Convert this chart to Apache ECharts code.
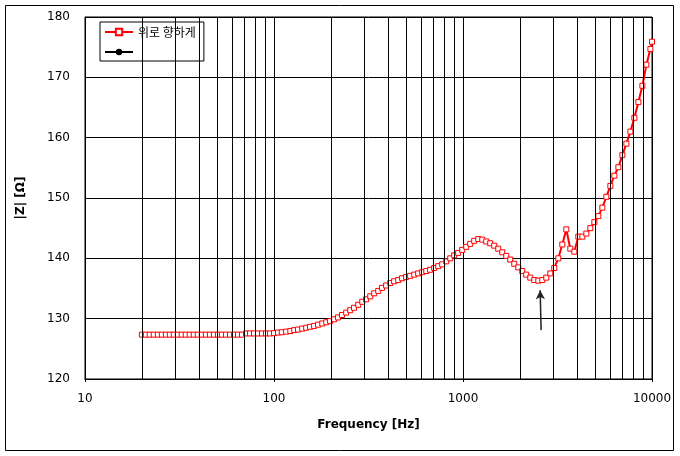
<!DOCTYPE html>
<html>
<head>
<meta charset="utf-8">
<script src="https://cdn.jsdelivr.net/npm/echarts@6/dist/echarts.min.js"></script>
<style>
  html, body { margin: 0; padding: 0; background: #fff; }
  #main { width: 680px; height: 456px; }
</style>
</head>
<body>
<div id="main"></div>
<script>
// frequency [Hz]
var freq = [20, 21, 22, 23.1, 24.3, 25.5, 26.8, 28.1, 29.5, 31, 32.5, 34.1, 35.8, 37.6, 39.5, 41.5, 43.6, 45.8, 48.1, 50.5,
  53, 55.7, 58.5, 61.4, 64.5, 67.7, 71.1, 74.7, 78.4, 82.3, 86.4, 90.7, 95.2, 100, 105, 110, 116, 122, 128, 134,
  141, 148, 155, 163, 171, 180, 189, 198, 208, 218, 229, 241, 253, 265, 279, 293, 307, 323, 339, 356,
  373, 392, 412, 432, 454, 476, 500, 525, 552, 579, 608, 639, 670, 704, 739, 776, 815, 856, 898, 943,
  990, 1040, 1092, 1146, 1204, 1264, 1327, 1393, 1463, 1536, 1613, 1694, 1778, 1867, 1960, 2058, 2161, 2269, 2383, 2502,
  2627, 2758, 2896, 3041, 3193, 3353, 3520, 3696, 3881, 4075, 4279, 4493, 4718, 4954, 5201, 5461, 5734, 6021, 6322, 6638,
  6970, 7319, 7685, 8069, 8472, 8896, 9341, 9808, 10000];
// |Z| [Ohm]
var zUp = [127.35, 127.35, 127.35, 127.35, 127.35, 127.35, 127.35, 127.35, 127.35, 127.35, 127.35, 127.35, 127.35, 127.35, 127.35, 127.35, 127.35, 127.35, 127.35, 127.35,
  127.35, 127.35, 127.35, 127.35, 127.35, 127.35, 127.55, 127.55, 127.55, 127.55, 127.55, 127.55, 127.55, 127.6, 127.7, 127.75, 127.85, 127.95, 128.1, 128.2,
  128.35, 128.5, 128.65, 128.8, 129.0, 129.2, 129.4, 129.6, 129.9, 130.2, 130.6, 131.0, 131.4, 131.8, 132.3, 132.8, 133.2, 133.7, 134.2, 134.6,
  135.1, 135.5, 135.9, 136.2, 136.4, 136.7, 136.9, 137.1, 137.3, 137.5, 137.7, 137.9, 138.1, 138.4, 138.7, 139.0, 139.5, 140.0, 140.5, 140.9,
  141.4, 141.9, 142.4, 142.9, 143.2, 143.1, 142.8, 142.5, 142.1, 141.6, 141.0, 140.4, 139.8, 139.1, 138.5, 137.9, 137.3, 136.8, 136.4, 136.3,
  136.4, 136.8, 137.5, 138.4, 140.0, 142.3, 144.8, 141.6, 141.1, 143.6, 143.6, 144.1, 145.0, 146.0, 147.0, 148.4, 150.2, 152.0, 153.7, 155.1,
  157.1, 159.0, 161.0, 163.3, 165.9, 168.6, 172.1, 174.7, 175.9];

var minorGrid = [20, 30, 40, 50, 60, 70, 80, 90, 200, 300, 400, 500, 600, 700, 800, 900, 2000, 3000, 4000, 5000, 6000, 7000, 8000, 9000];
var arrowFrom = [2590, 128.1];
var arrowTo = [2560, 134.7];

var seriesName = '위로 향하게';
var txt = { fontFamily: 'DejaVu Sans', fontSize: 12, color: '#000' };

var chart = echarts.init(document.getElementById('main'));
chart.setOption({
  animation: false,
  backgroundColor: '#fff',
  graphic: [{
    type: 'rect', shape: { x: 5.5, y: 5.5, width: 668, height: 445 },
    style: { fill: 'none', stroke: '#000', lineWidth: 1 }
  }],
  grid: { left: 85, right: 28, top: 17, bottom: 77, show: true, borderColor: '#000', borderWidth: 1, backgroundColor: 'transparent' },
  legend: {
    orient: 'vertical', left: 100, top: 22,
    data: [seriesName, ' '],
    itemWidth: 28, itemHeight: 8, itemGap: 8,
    padding: [4, 8, 3, 4],
    borderColor: '#000', borderWidth: 1, backgroundColor: '#fff',
    textStyle: { fontFamily: 'Noto Sans CJK KR', fontSize: 12, color: '#000' }
  },
  xAxis: {
    type: 'log', logBase: 10, min: 10, max: 10000,
    name: 'Frequency [Hz]', nameLocation: 'middle', nameGap: 40,
    nameTextStyle: { fontFamily: 'DejaVu Sans', fontSize: 12, fontWeight: 'bold', color: '#000' },
    axisLine: { lineStyle: { color: '#000', width: 1 } },
    axisTick: { show: true, length: 3, lineStyle: { color: '#000' } },
    axisLabel: Object.assign({ margin: 14, formatter: function (v) { return String(v); } }, txt),
    splitLine: { show: true, lineStyle: { color: '#000', width: 1 } }
  },
  yAxis: {
    type: 'value', min: 120, max: 180, interval: 10,
    name: '|Z| [Ω]', nameLocation: 'middle', nameGap: 58, nameRotate: 90,
    nameTextStyle: { fontFamily: 'DejaVu Sans', fontSize: 12, fontWeight: 'bold', color: '#000' },
    axisLine: { show: true, lineStyle: { color: '#000', width: 1 } },
    axisTick: { show: false },
    axisLabel: Object.assign({ margin: 15 }, txt),
    splitLine: { show: true, lineStyle: { color: '#000', width: 1 } }
  },
  series: [{
    name: ' ', type: 'line', data: [],
    symbol: 'circle', symbolSize: 7,
    itemStyle: { color: '#000' },
    lineStyle: { color: '#000', width: 2 },
    markLine: {
      silent: true, animation: false,
      symbol: ['none', 'none'],
      label: { show: false },
      lineStyle: { color: '#000', width: 1, type: 'solid' },
      data: minorGrid.map(function (v) { return { xAxis: v }; }).concat([[
        { coord: arrowFrom, symbol: 'none', lineStyle: { color: '#222', width: 1.5 } },
        { coord: arrowTo, symbol: 'arrow', symbolSize: [7, 9] }
      ]])
    }
  }, {
    name: seriesName, type: 'line',
    data: freq.map(function (f, i) { return [f, zUp[i]]; }),
    symbol: 'rect', symbolSize: 5,
    itemStyle: { color: '#fff', borderColor: '#ff0000', borderWidth: 1 },
    lineStyle: { color: '#ff0000', width: 2 },
    z: 3
  }]
});
</script>
</body>
</html>
